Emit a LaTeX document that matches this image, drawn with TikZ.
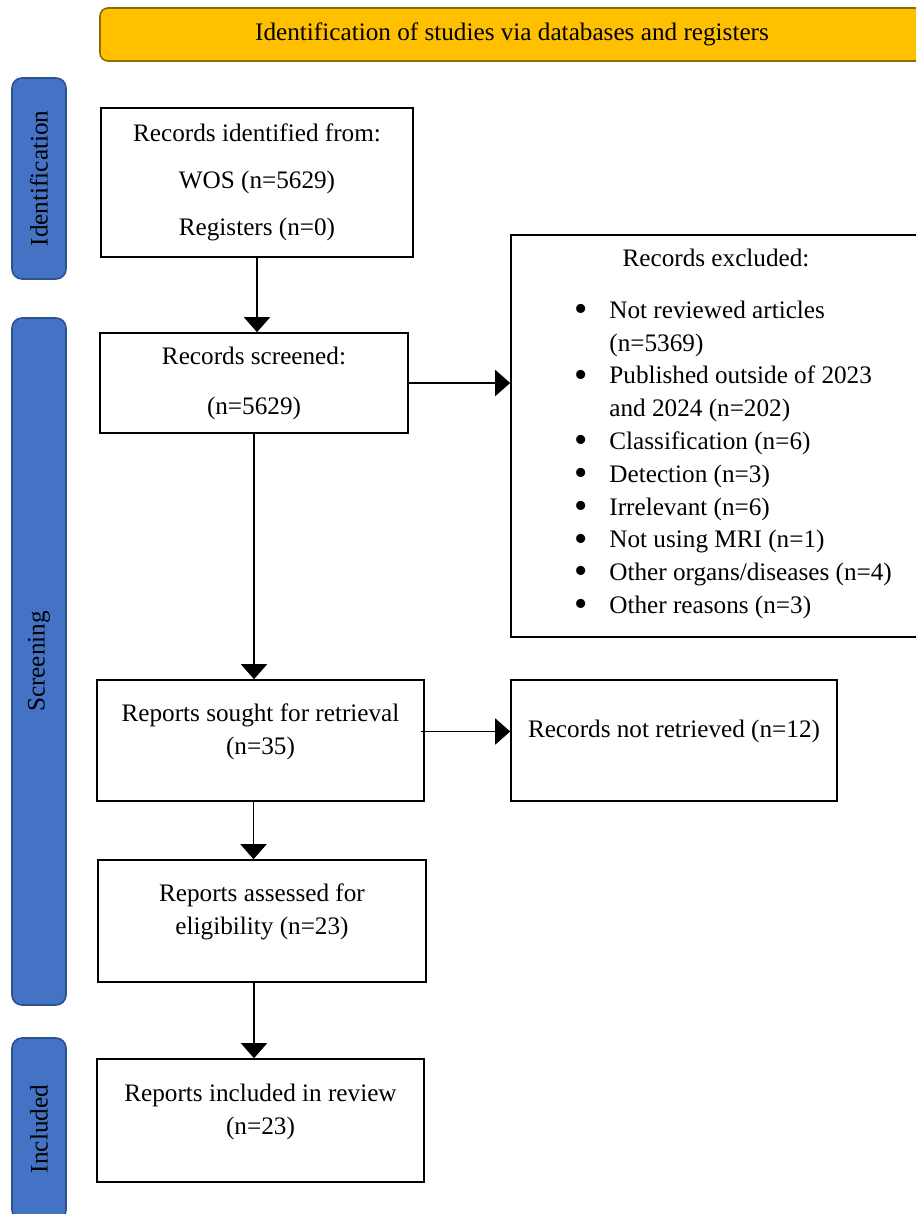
\documentclass[tikz,border=0pt]{standalone}
\usepackage{fontspec}
\setmainfont{Liberation Serif}
\usepackage{xcolor}
\usetikzlibrary{arrows.meta, positioning, calc}
\definecolor{stageblue}{RGB}{68,114,196}
\definecolor{stageedge}{RGB}{47,82,143}
\definecolor{bannergold}{RGB}{255,192,0}
\definecolor{banneredge}{RGB}{140,110,0}
\newcommand{\bigdot}{\raisebox{-1.6pt}{\fontsize{19}{16.4}\selectfont\textbullet}}

\begin{document}
\begin{tikzpicture}[x=0.5pt, y=-0.5pt,
    font=\fontsize{12.6}{16.4}\selectfont,
    box/.style={draw, line width=0.8pt, align=center, inner sep=2pt},
    toptext/.style={text depth=11.5pt},
    stage/.style={draw=stageedge, fill=stageblue, line width=0.8pt,
      rounded corners=5pt, minimum height=27pt, rotate=90},
    arr/.style={line width=0.8pt, -{Triangle[width=13pt,length=7.5pt]}}]
    \path[use as bounding box, clip] (0,0) rectangle (916,1214);

    \node[box, draw=banneredge, fill=bannergold, rounded corners=4pt,
      minimum width=412pt, minimum height=26.5pt] (banner) at (512,34.5)
      {Identification of studies via databases and registers};

    \node[stage, minimum width=100.5pt] (ident) at (39,178.5) {Identification};
    \node[stage, minimum width=343.5pt] (screen) at (39,661.5) {Screening};
    \node[stage, minimum width=91pt] (incl) at (39,1129) {Included};

    \node[box, minimum width=156pt, minimum height=74.5pt] (ids) at (257,182.5)
      {Records identified from:\\[7pt] WOS (n=5629)\\[7pt] Registers (n=0)};
    \node[box, minimum width=154pt, minimum height=50pt] (screened) at (254,383)
      {Records screened:\\[8.6pt] (n=5629)};
    \node[box, minimum width=222pt, minimum height=201pt] (excluded) at (733,436)
      {Records excluded:\hspace*{17pt}\\[9.6pt]
      \begin{tabular}[t]{@{}l@{\hspace{11pt}}l@{}}
        \bigdot & Not reviewed articles\\
                & (n=5369)\\
        \bigdot & Published outside of 2023\\
                & and 2024 (n=202)\\
        \bigdot & Classification (n=6)\\
        \bigdot & Detection (n=3)\\
        \bigdot & Irrelevant (n=6)\\
        \bigdot & Not using MRI (n=1)\\
        \bigdot & Other organs/diseases (n=4)\\
        \bigdot & Other reasons (n=3)
      \end{tabular}};
    \node[box, toptext, minimum width=163.5pt, minimum height=60.5pt] (sought) at (260.5,740.5)
      {Reports sought for retrieval\\ (n=35)};
    \node[box, toptext, minimum width=163pt, minimum height=60.5pt] (notretrieved) at (674,740.5)
      {Records not retrieved (n=12)};
    \node[box, toptext, minimum width=164pt, minimum height=61pt] (assessed) at (262,921)
      {Reports assessed for\\ eligibility (n=23)};
    \node[box, toptext, minimum width=163.5pt, minimum height=61.5pt] (included) at (260.5,1120.5)
      {Reports included in review\\ (n=23)};

    \draw[arr] (ids.south) -- (ids.south |- screened.north);
    \draw[arr] (screened.east) -- (screened.east -| excluded.west);
    \draw[arr] (screened.south) -- (screened.south |- sought.north);
    \draw[arr] ([xshift=-2pt,yshift=4.5pt]sought.east) -- ([yshift=4.5pt]sought.east -| notretrieved.west);
    \draw[arr] ([xshift=-3.5pt]sought.south) -- ([xshift=-3.5pt]sought.south |- assessed.north);
    \draw[arr] ([xshift=-4pt]assessed.south) -- ([xshift=-4pt]assessed.south |- included.north);
  \end{tikzpicture}
\end{document}
